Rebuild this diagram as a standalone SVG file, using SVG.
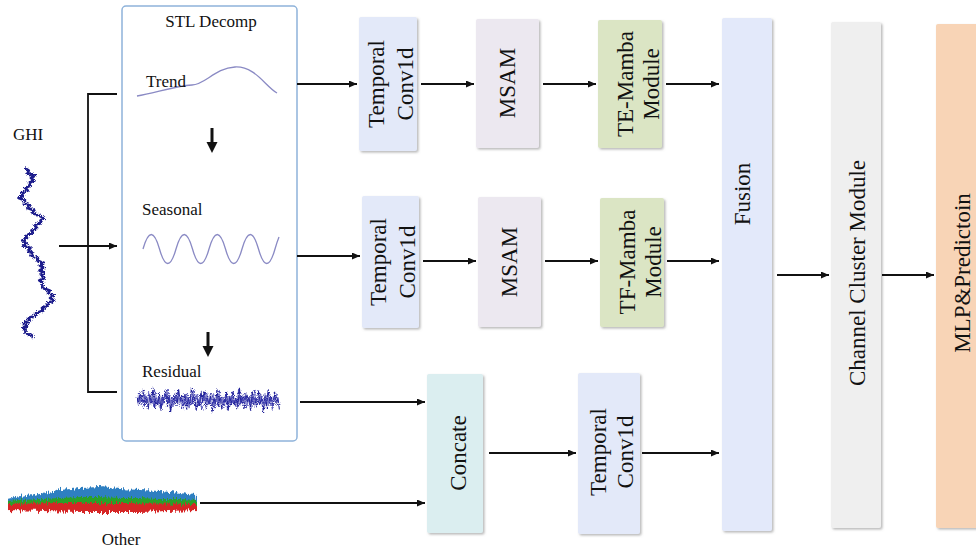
<svg xmlns="http://www.w3.org/2000/svg" width="976" height="551" viewBox="0 0 976 551">
<defs>
<style>
text{font-family:"Liberation Serif","Times New Roman",serif;fill:#111}
.lbl{font-size:17px}
.bt{font-size:23px;text-anchor:middle}
.box{rx:2;filter:url(#sh)}
.ln{stroke:#111;stroke-width:1.8;fill:none}
.arr{stroke:#111;stroke-width:1.8;fill:none;marker-end:url(#ah)}
</style>
<marker id="ah" markerUnits="userSpaceOnUse" markerWidth="8" markerHeight="7" refX="8" refY="3.5" orient="auto">
<path d="M0,0 L8,3.5 L0,7 z" fill="#111"/>
</marker>
<filter id="sh" x="-10%" y="-10%" width="130%" height="130%">
<feDropShadow dx="1.5" dy="1.5" stdDeviation="0.8" flood-color="#888" flood-opacity="0.6"/>
</filter>
<filter id="fuzz" x="-20%" y="-10%" width="140%" height="120%">
<feTurbulence type="fractalNoise" baseFrequency="0.9" numOctaves="1" seed="4" result="n"/>
<feDisplacementMap in="SourceGraphic" in2="n" scale="5" xChannelSelector="R" yChannelSelector="G"/>
</filter>
<filter id="spiky" x="-5%" y="-60%" width="110%" height="220%">
<feTurbulence type="fractalNoise" baseFrequency="0.8 0.04" numOctaves="2" seed="7" result="n"/>
<feDisplacementMap in="SourceGraphic" in2="n" scale="9" xChannelSelector="B" yChannelSelector="R"/>
</filter>
</defs>
<rect width="976" height="551" fill="#fff"/>

<g id="stl">
<rect x="122" y="6" width="175" height="435" rx="4" fill="#fff" stroke="#8fb3da" stroke-width="1.5"/>
<text class="lbl" x="211" y="27" text-anchor="middle">STL Decomp</text>
<path d="M137,96 C155,93 175,86 192,85 C205,85 215,68 235,67 C255,66 265,86 277,93" fill="none" stroke="#8a8ac4" stroke-width="1.3"/>
<text class="lbl" x="146" y="87">Trend</text>
<path d="M212,128 V143" stroke="#111" stroke-width="3"/>
<path d="M206.5,142 L217.5,142 L212,153 z" fill="#111"/>
<text class="lbl" x="142" y="215">Seasonal</text>
<path d="M143,249 Q151.25,220 159.5,249 T176,249 T192.5,249 T209,249 T225.5,249 T242,249 T258.5,249 T275,249 Q277,242 279,237" fill="none" stroke="#8a8ac4" stroke-width="1.3"/>
<path d="M208,332 V347" stroke="#111" stroke-width="3"/>
<path d="M202.5,346 L213.5,346 L208,357 z" fill="#111"/>
<text class="lbl" x="142" y="377">Residual</text>
<g filter="url(#fuzz)">
<polyline transform="translate(137,400) scale(1.6,1.35)" vector-effect="non-scaling-stroke" fill="none" stroke="#24249a" stroke-width="1.1" points="0,-3 1,4 2,-6 3,2 4,-8 5,5 6,-2 7,7 8,-4 9,3 10,-9 11,6 12,-1 13,4 14,-5 15,8 16,-3 17,2 18,-7 19,5 20,-4 21,9 22,-2 23,3 24,-6 25,4 26,-8 27,1 28,-3 29,6 30,-5 31,7 32,-2 33,4 34,-9 35,3 36,-4 37,8 38,-1 39,5 40,-6 41,2 42,-7 43,6 44,-3 45,4 46,-5 47,9 48,-2 49,3 50,-8 51,5 52,-4 53,7 54,-1 55,2 56,-6 57,8 58,-3 59,4 60,-7 61,5 62,-2 63,6 64,-9 65,3 66,-4 67,7 68,-5 69,2 70,-3 71,8 72,-6 73,4 74,-1 75,5 76,-7 77,3 78,-2 79,9 80,-4 81,6 82,-8 83,2 84,-3 85,5 86,-6 87,4 88,-2 89,7"/>
<polyline transform="translate(137.8,400) scale(1.6,1.35)" vector-effect="non-scaling-stroke" fill="none" stroke="#3a3ab0" stroke-width="0.8" points="0,2 1,-5 2,3 3,-2 4,6 5,-4 6,1 7,-6 8,3 9,-1 10,5 11,-7 12,2 13,-3 14,6 15,-2 16,4 17,-5 18,1 19,-8 20,3 21,-2 22,5 23,-4 24,2 25,-6 26,4 27,-1 28,7 29,-3 30,2 31,-5 32,6 33,-2 34,3 35,-7 36,1 37,-4 38,5 39,-2 40,8 41,-3 42,2 43,-6 44,4 45,-1 46,3 47,-5 48,6 49,-2 50,4 51,-7 52,1 53,-3 54,5 55,-4 56,7 57,-2 58,3 59,-6 60,2 61,-1 62,5 63,-8 64,4 65,-2 66,3 67,-5 68,6 69,-1 70,4 71,-3 72,2 73,-7 74,5 75,-2 76,3 77,-4 78,6 79,-1 80,2 81,-5 82,4 83,-3 84,7 85,-2 86,1 87,-4 88,3"/>
</g>
</g>

<g id="ghi">
<text class="lbl" x="13" y="140">GHI</text>
<polyline filter="url(#fuzz)" fill="none" stroke="#1e1e8c" stroke-width="2.7" stroke-linejoin="round" points="25,168 28.75,170.5 27.7,173 35,175.5 31,178 34,180.5 29,183 30.5,185.5 25,188 27.7,190.5 21.3,193 22.9,195.5 18.6,198 25.2,200.5 23.8,203 29.6,205.5 27.4,208 34.3,210.5 32.1,213 39,215.5 43.75,218 40.5,220.5 41,223 34.5,225.5 37,228 31.5,230.5 33,233 25.5,235.5 27,238 22.3,240.5 26.6,243 23.9,245.5 30.4,248 28.2,250.5 33,253 30.5,255.5 38,258 37.4,260.5 43.1,263 39.9,265.5 43.9,268 39.6,270.5 44.25,273 40.9,275.5 44.6,278 39.3,280.5 43,283 42.25,285.5 42.5,288 49.75,290.5 48,293 53.6,295.5 50.1,298 53.7,300.5 47.7,303 48.3,305.5 42,308 43.5,310.5 36,313 36,315.5 28,318 30,320.5 23,323 27.6,325.5 23.3,328 25.6,330.5 25.4,333 32.2,335.5 33,338"/>
</g>

<g id="other">
<g filter="url(#spiky)">
<polygon fill="#2f7fc1" points="7,499 20,496 40,493 60,490 80,488 100,487 120,489 140,490 160,491 180,493 196,495 197,505 7,505"/>
<polygon fill="#2ca02c" points="7,501 20,500 40,499 60,498 80,497 100,497 120,498 140,498 160,499 180,499 197,500 197,508 7,508"/>
<polygon fill="#d62728" points="7,504 60,503 120,503 197,504 197,510 140,512 80,512 7,510"/>
</g>
<text class="lbl" x="121" y="545" text-anchor="middle">Other</text>
</g>

<g id="conv1">
<rect class="box" x="359" y="17" width="58" height="134" fill="#e3e9f9"/>
<text class="bt" transform="translate(389,84) rotate(-90)"><tspan x="0" y="-5">Temporal</tspan><tspan x="0" y="24">Conv1d</tspan></text>
</g>
<g id="msam1">
<rect class="box" x="476" y="19" width="63" height="129" fill="#ece8f0"/>
<text class="bt" transform="translate(507.5,83) rotate(-90)" y="7.5">MSAM</text>
</g>
<g id="mamba1">
<rect class="box" x="598" y="20" width="64" height="128" fill="#dbe5c4"/>
<text class="bt" transform="translate(630,84) rotate(-90)"><tspan x="0" y="3">TE-Mamba</tspan><tspan x="0" y="29">Module</tspan></text>
</g>

<g id="conv2">
<rect class="box" x="362" y="196" width="57" height="132" fill="#e3e9f9"/>
<text class="bt" transform="translate(391,262) rotate(-90)"><tspan x="0" y="-5">Temporal</tspan><tspan x="0" y="24">Conv1d</tspan></text>
</g>
<g id="msam2">
<rect class="box" x="478" y="197" width="63" height="130" fill="#ece8f0"/>
<text class="bt" transform="translate(509.5,262) rotate(-90)" y="7.5">MSAM</text>
</g>
<g id="mamba2">
<rect class="box" x="600" y="198" width="64" height="129" fill="#dbe5c4"/>
<text class="bt" transform="translate(632,262) rotate(-90)"><tspan x="0" y="3">TF-Mamba</tspan><tspan x="0" y="29">Module</tspan></text>
</g>

<g id="concate">
<rect class="box" x="427" y="374" width="56" height="159" fill="#dbeef0"/>
<text class="bt" transform="translate(455,453) rotate(-90)" y="11">Concate</text>
</g>
<g id="conv3">
<rect class="box" x="578" y="373" width="62" height="161" fill="#e3e9f9"/>
<text class="bt" transform="translate(609,452) rotate(-90)"><tspan x="0" y="-3">Temporal</tspan><tspan x="0" y="24">Conv1d</tspan></text>
</g>

<g id="fusion">
<rect class="box" x="722" y="18" width="50" height="513" fill="#e3e9fa"/>
<text class="bt" transform="translate(747,194) rotate(-90)" y="3">Fusion</text>
</g>
<g id="cluster">
<rect class="box" x="831" y="22" width="50" height="506" fill="#efefef"/>
<text class="bt" transform="translate(856,273) rotate(-90)" y="9">Channel Cluster Module</text>
</g>
<g id="mlp">
<rect class="box" x="936" y="24" width="44" height="504" fill="#f8d4b6"/>
<text class="bt" transform="translate(961,273) rotate(-90)" y="9">MLP&amp;Predictoin</text>
</g>

<g id="connectors">
<path class="ln" d="M117,94 H88 V392 H117" stroke-width="2.2"/>
<path class="arr" d="M59,246 H117"/>
<path class="arr" d="M297,84 H357"/>
<path class="arr" d="M421,84 H474"/>
<path class="arr" d="M543,84 H596"/>
<path class="arr" d="M666,84 H719"/>
<path class="arr" d="M297,256 H360"/>
<path class="arr" d="M423,261 H476"/>
<path class="arr" d="M545,261 H598"/>
<path class="arr" d="M667,261 H719"/>
<path class="arr" d="M300,402 H425"/>
<path class="arr" d="M200,503 H425"/>
<path class="arr" d="M489,453 H576"/>
<path class="arr" d="M642,453 H719"/>
<path class="arr" d="M777,275 H829"/>
<path class="arr" d="M882,275 H934"/>
</g>
</svg>
